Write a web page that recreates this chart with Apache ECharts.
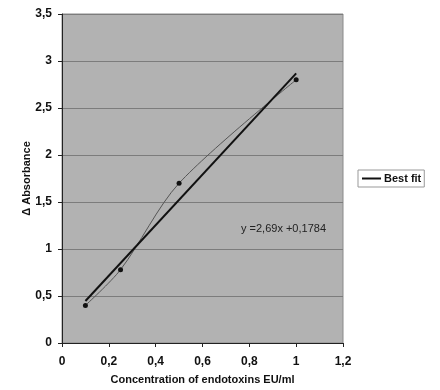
<!DOCTYPE html>
<html>
<head>
<meta charset="utf-8">
<script src="https://cdn.jsdelivr.net/npm/echarts@6/dist/echarts.min.js"></script>
<style>html,body{margin:0;padding:0;background:#fff}#c{width:440px;height:390px}</style>
</head>
<body>
<div id="c"></div>
<script>
const concentrations = [0.1, 0.25, 0.5, 1.0];
const absorbance = [0.4, 0.78, 1.7, 2.8];
const fitX = [0.1, 1.0];
const fitY = [0.447, 2.868];
const equationLabel = 'y =2,69x +0,1784';
const fitName = 'Best fit';
const xName = 'Concentration of endotoxins EU/ml';
const yName = '\u0394 Absorbance';

const fmt = v => String(Math.round(v * 10) / 10).replace('.', ',');
const font = { fontFamily: 'Liberation Sans, Arial, sans-serif', fontWeight: 'bold', fontSize: 11, color: '#111' };

const chart = echarts.init(document.getElementById('c'));
chart.setOption({
  animation: false,
  grid: { left: 62, right: 97, top: 14, bottom: 46, show: true, backgroundColor: '#b2b2b2', borderColor: '#8a8a8a', borderWidth: 1 },
  xAxis: [{
    type: 'value', min: 0, max: 1.2, interval: 0.2,
    name: xName, nameLocation: 'middle', nameGap: 31, nameMoveOverlap: false,
    nameTextStyle: Object.assign({}, font),
    axisLine: { show: true, onZero: false, lineStyle: { color: '#222', width: 1 } },
    axisTick: { show: true, length: 4, lineStyle: { color: '#222' } },
    axisLabel: Object.assign({ formatter: fmt, margin: 13 }, font, { fontSize: 12 }),
    splitLine: { show: false }
  }, {
    type: 'value', min: 0, max: 1.2, position: 'top',
    axisLine: { show: true, lineStyle: { color: '#222', width: 1 } },
    axisTick: { show: false }, axisLabel: { show: false }, splitLine: { show: false }
  }],
  yAxis: {
    type: 'value', min: 0, max: 3.5, interval: 0.5,
    name: yName, nameLocation: 'middle', nameGap: 30, nameMoveOverlap: false,
    nameTextStyle: Object.assign({}, font),
    axisLine: { show: true, onZero: false, lineStyle: { color: '#222', width: 1 } },
    axisTick: { show: true, length: 4, lineStyle: { color: '#222' } },
    axisLabel: Object.assign({ formatter: fmt, margin: 10 }, font, { fontSize: 12 }),
    splitLine: { show: true, lineStyle: { color: '#7c7c7c', width: 1 } }
  },
  legend: {
    data: [{ name: fitName, icon: 'rect' }],
    left: 358, top: 170, orient: 'vertical',
    itemWidth: 19, itemHeight: 2, itemGap: 4,
    padding: [3, 3, 3, 4],
    borderColor: '#999', borderWidth: 1, backgroundColor: '#fff',
    textStyle: Object.assign({}, font, { padding: [0, 0, 0, -2] })
  },
  graphic: [{
    type: 'text', left: 241, top: 223,
    style: { text: equationLabel, fill: '#222', font: '11px Liberation Sans, Arial, sans-serif' }
  }],
  series: [{
    name: 'data', type: 'line', smooth: 0.3,
    data: concentrations.map((x, i) => [x, absorbance[i]]),
    symbol: 'circle', symbolSize: 5,
    itemStyle: { color: '#111' },
    lineStyle: { color: '#555', width: 1 }
  }, {
    name: fitName, type: 'line',
    data: fitX.map((x, i) => [x, fitY[i]]),
    showSymbol: false, symbol: 'none',
    itemStyle: { color: '#111' },
    lineStyle: { color: '#111', width: 2 }
  }]
});
</script>
</body>
</html>
